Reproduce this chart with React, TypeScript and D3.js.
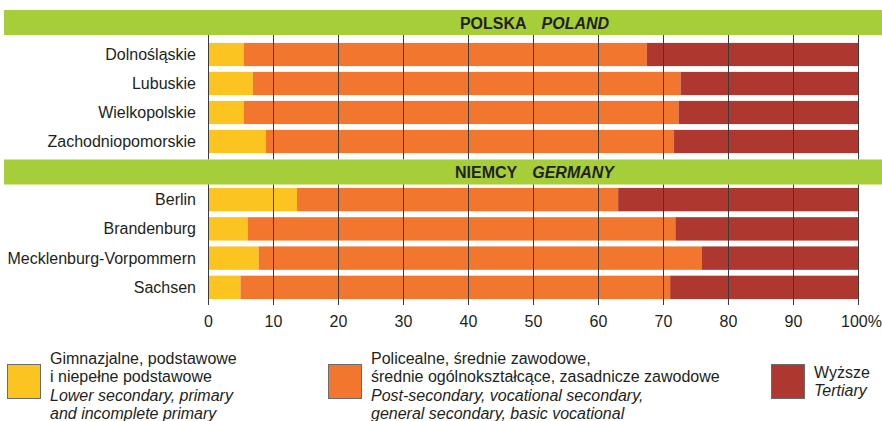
import { useEffect, useRef } from 'react';
import * as d3 from 'd3';

// shares of population by education level, in percent
const polandRegions = ['Dolnośląskie', 'Lubuskie', 'Wielkopolskie', 'Zachodniopomorskie'];
const polandLower = [5.5, 6.9, 5.5, 8.9];
const polandMiddle = [62.0, 65.8, 66.9, 62.8];

const germanyRegions = ['Berlin', 'Brandenburg', 'Mecklenburg-Vorpommern', 'Sachsen'];
const germanyLower = [13.7, 6.1, 7.8, 5.0];
const germanyMiddle = [49.4, 65.8, 68.2, 66.1];

const xTicks = [0, 10, 20, 30, 40, 50, 60, 70, 80, 90, 100];

const colors = ['#fcc421', '#f2762e', '#ae3730'];
const green = '#a6ce39';
const ink = '#231f20';
const font = '"Liberation Sans", Arial, sans-serif';

const App = () => {
  const ref = useRef<SVGSVGElement>(null);

  useEffect(() => {
    const svg = d3.select(ref.current);
    svg.selectAll('*').remove();

    const x = d3.scaleLinear().domain([0, 100]).range([208, 858]);

    const groups = [
      { title: 'POLSKA', titleEn: 'POLAND', top: 10, bottom: 159.5, regions: polandRegions, lower: polandLower, middle: polandMiddle, range: [40, 156] },
      { title: 'NIEMCY', titleEn: 'GERMANY', top: 159.5, bottom: 305, regions: germanyRegions, lower: germanyLower, middle: germanyMiddle, range: [185, 302] },
    ];

    groups.forEach((g) => {
      // header strip
      svg.append('rect').attr('x', 4).attr('y', g.top).attr('width', 878).attr('height', 25).attr('fill', green);
      const t = svg
        .append('text')
        .attr('x', x(50) + 1.5)
        .attr('y', g.top + 18.5)
        .attr('text-anchor', 'middle')
        .attr('font-family', font)
        .attr('font-size', 16)
        .attr('font-weight', 'bold')
        .attr('fill', ink);
      t.append('tspan').text(g.title);
      t.append('tspan').attr('dx', 15).attr('font-style', 'italic').text(g.titleEn);

      const y = d3.scaleBand().domain(g.regions).range(g.range).paddingInner(0.2).paddingOuter(0.1);

      const rows = g.regions.map((name, i) => {
        const a = g.lower[i];
        const b = g.middle[i];
        return { name, parts: [[0, a], [a, a + b], [a + b, 100]] };
      });

      rows.forEach((r) => {
        r.parts.forEach((p, k) => {
          svg
            .append('rect')
            .attr('x', x(p[0]))
            .attr('y', y(r.name)!)
            .attr('width', x(p[1]) - x(p[0]))
            .attr('height', y.bandwidth())
            .attr('fill', colors[k]);
        });
        svg
          .append('text')
          .attr('x', 196)
          .attr('y', y(r.name)! + y.bandwidth() / 2 + 5.5)
          .attr('text-anchor', 'end')
          .attr('font-family', font)
          .attr('font-size', 16)
          .attr('fill', ink)
          .text(r.name);
      });

      // grid over the bars
      svg
        .append('g')
        .selectAll('line')
        .data(xTicks)
        .join('line')
        .attr('x1', (d) => x(d) + 0.5)
        .attr('x2', (d) => x(d) + 0.5)
        .attr('y1', g.top + 25)
        .attr('y2', g.bottom)
        .attr('stroke', '#3a3a3a')
        .attr('stroke-width', 1);
    });

    // axis labels
    svg
      .append('g')
      .selectAll('text')
      .data(xTicks)
      .join('text')
      .attr('x', (d) => x(d) + (d === 100 ? 3.5 : 0.5))
      .attr('y', 327)
      .attr('text-anchor', 'middle')
      .attr('font-family', font)
      .attr('font-size', 16)
      .attr('fill', ink)
      .text((d) => (d === 100 ? '100%' : String(d)));

    // legend
    const legend = [
      { x: 7, lines: ['Gimnazjalne, podstawowe', 'i niepełne podstawowe'], en: ['Lower secondary, primary', 'and incomplete primary'], y0: 364 },
      { x: 328, lines: ['Policealne, średnie zawodowe,', 'średnie ogólnokształcące, zasadnicze zawodowe'], en: ['Post-secondary, vocational secondary,', 'general secondary, basic vocational'], y0: 364 },
      { x: 771, lines: ['Wyższe'], en: ['Tertiary'], y0: 378 },
    ];
    legend.forEach((l, i) => {
      svg
        .append('rect')
        .attr('x', l.x + 0.5)
        .attr('y', 364.5)
        .attr('width', 33)
        .attr('height', 34)
        .attr('fill', colors[i])
        .attr('stroke', '#6b6b6b')
        .attr('stroke-width', 1);
      const all = [...l.lines.map((s) => ({ s, it: false })), ...l.en.map((s) => ({ s, it: true }))];
      all.forEach((d, j) => {
        svg
          .append('text')
          .attr('x', l.x + 43)
          .attr('y', l.y0 + j * 18.3)
          .attr('font-family', font)
          .attr('font-size', 16)
          .attr('font-style', d.it ? 'italic' : 'normal')
          .attr('fill', ink)
          .text(d.s);
      });
    });
  }, []);

  return (
    <svg
      ref={ref}
      width={882}
      height={421}
      style={{ display: 'block', position: 'absolute', left: 0, top: 0 }}
    />
  );
};

export default App;
